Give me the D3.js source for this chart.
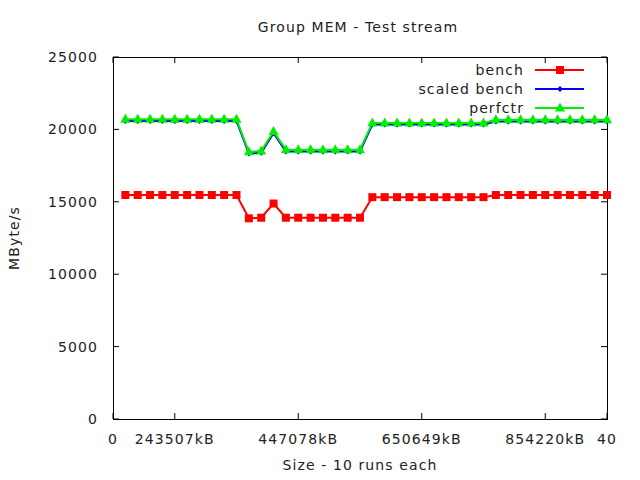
<!DOCTYPE html>
<html><head><meta charset="utf-8">
<script src="https://cdn.jsdelivr.net/npm/d3@7"></script>
<style>
body{margin:0;background:#fff;}
svg text{font-family:"DejaVu Sans",sans-serif;font-size:14px;letter-spacing:1.1px;fill:#222;}
</style></head>
<body><svg id="c" width="640" height="480"></svg>
<script>
const xIndex = d3.range(1, 41);
const bench = [15470,15470,15470,15470,15470,15470,15470,15470,15470,15470,
  13860,13900,14880,13900,13900,13900,13900,13900,13900,13900,
  15320,15320,15320,15320,15320,15320,15320,15320,15320,15320,
  15470,15470,15470,15470,15470,15470,15470,15470,15470,15470];
const scaledBench = [20580,20580,20580,20580,20580,20580,20580,20580,20580,20580,
  18330,18380,19740,18480,18480,18480,18480,18480,18480,18480,
  20330,20330,20330,20330,20330,20330,20330,20330,20330,20330,
  20540,20540,20540,20540,20540,20540,20540,20540,20540,20540];
const perfctr = [20700,20700,20700,20700,20700,20700,20700,20700,20700,20700,
  18450,18500,19850,18600,18600,18600,18600,18600,18600,18600,
  20450,20450,20450,20450,20450,20450,20450,20450,20450,20450,
  20660,20660,20660,20660,20660,20660,20660,20660,20660,20660];
const xTickValues = [0, 5, 15, 25, 35, 40];
const xTickLabels = ["0", "243507kB", "447078kB", "650649kB", "854220kB", "40"];
const yTickValues = [0, 5000, 10000, 15000, 20000, 25000];
const seriesNames = ["bench", "scaled bench", "perfctr"];
const seriesColors = ["#ff0000", "#0000ff", "#00ee00"];

const L=113, R=607, T=57, B=419;
const svg = d3.select("#c");
const x = d3.scaleLinear().domain([0,40]).range([L,R]);
const y = d3.scaleLinear().domain([0,25000]).range([B,T]);

const tl = 6;
const g = svg.append("g");
yTickValues.forEach(v=>{
  g.append("line").attr("x1",L).attr("x2",L+tl).attr("y1",y(v)).attr("y2",y(v)).attr("stroke","#000");
  g.append("line").attr("x1",R).attr("x2",R-tl).attr("y1",y(v)).attr("y2",y(v)).attr("stroke","#000");
  g.append("text").attr("x",L-15).attr("y",y(v)+5).attr("text-anchor","end").text(v);
});
xTickValues.forEach((v,i)=>{
  g.append("line").attr("x1",x(v)).attr("x2",x(v)).attr("y1",B).attr("y2",B-tl).attr("stroke","#000");
  g.append("line").attr("x1",x(v)).attr("x2",x(v)).attr("y1",T).attr("y2",T+tl).attr("stroke","#000");
  g.append("text").attr("x",x(v)).attr("y",B+25).attr("text-anchor","middle").text(xTickLabels[i]);
});
g.append("rect").attr("x",L+0.5).attr("y",T+0.5).attr("width",R-L).attr("height",B-T)
  .attr("fill","none").attr("stroke","#000");

svg.append("text").attr("x",358).attr("y",32).attr("text-anchor","middle").text("Group MEM - Test stream");
svg.append("text").attr("x",360).attr("y",470).attr("text-anchor","middle").text("Size - 10 runs each");
svg.append("text").attr("transform","translate(19,238) rotate(-90)").attr("text-anchor","middle").text("MByte/s");

const all = [bench, scaledBench, perfctr];
const line = d3.line().x((d,i)=>x(xIndex[i])).y(d=>y(d));
function marker(sel, k, cx, cy){
  if(k===0) sel.append("rect").attr("x",cx-4).attr("y",cy-4).attr("width",8).attr("height",8).attr("fill",seriesColors[k]);
  else if(k===1) sel.append("path").attr("d",`M${cx},${cy-3}L${cx+3},${cy}L${cx},${cy+3}L${cx-3},${cy}Z`).attr("fill",seriesColors[k]);
  else sel.append("path").attr("d",`M${cx},${cy-5.5}L${cx+5},${cy+3.5}L${cx-5},${cy+3.5}Z`).attr("fill",seriesColors[k]);
}
all.forEach((s,k)=>{
  const gs = svg.append("g");
  gs.append("path").attr("d",line(s)).attr("fill","none").attr("stroke",seriesColors[k]).attr("stroke-width",2);
  s.forEach((v,i)=>marker(gs,k,x(xIndex[i]),y(v)));
});
seriesNames.forEach((n,k)=>{
  const ly = 70 + k*19;
  svg.append("text").attr("x",524).attr("y",ly+5).attr("text-anchor","end").text(n);
  svg.append("line").attr("x1",535).attr("x2",584).attr("y1",ly).attr("y2",ly).attr("stroke",seriesColors[k]).attr("stroke-width",2);
  marker(svg,k,560,ly);
});
</script></body></html>
